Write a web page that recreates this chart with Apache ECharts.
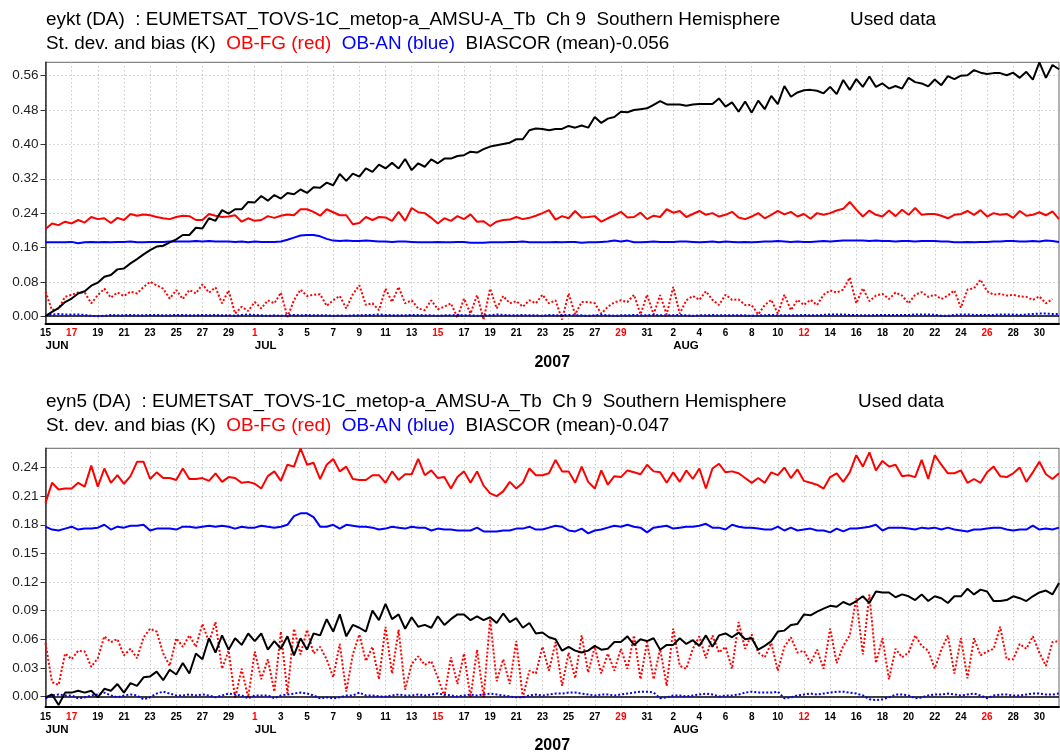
<!DOCTYPE html>
<html>
<head>
<meta charset="utf-8">
<script src="https://cdn.jsdelivr.net/npm/echarts@6/dist/echarts.min.js"></script>
<style>
html, body { margin: 0; padding: 0; background: #fff; }
#chart { width: 1060px; height: 755px; }
</style>
</head>
<body>
<div id="chart"></div>
<script>
// two analyses a day (00 and 12 UTC), starting 15 Jun 2007
const STEP = 0.5;
const START = Date.UTC(2007, 5, 15);
const monthNames = ['JAN', 'FEB', 'MAR', 'APR', 'MAY', 'JUN', 'JUL', 'AUG', 'SEP', 'OCT', 'NOV', 'DEC'];
const yTicksTop = [0, 0.08, 0.16, 0.24, 0.32, 0.40, 0.48, 0.56];
const yTicksBot = [0, 0.03, 0.06, 0.09, 0.12, 0.15, 0.18, 0.21, 0.24];

// ---- top panel (eykt) ----
const topUsed = [0.000,0.010,0.019,0.033,0.041,0.053,0.058,0.071,0.078,0.092,
  0.096,0.109,0.111,0.123,0.133,0.144,0.154,0.162,0.164,0.172,
  0.179,0.189,0.189,0.206,0.204,0.228,0.222,0.247,0.239,0.249,
  0.249,0.266,0.265,0.280,0.269,0.282,0.274,0.287,0.284,0.295,
  0.287,0.300,0.299,0.311,0.305,0.331,0.315,0.332,0.325,0.344,
  0.336,0.353,0.344,0.357,0.344,0.366,0.340,0.356,0.348,0.365,
  0.356,0.367,0.367,0.373,0.375,0.383,0.381,0.389,0.395,0.398,
  0.401,0.404,0.412,0.412,0.433,0.437,0.436,0.433,0.436,0.436,
  0.443,0.439,0.444,0.439,0.464,0.450,0.460,0.464,0.476,0.475,
  0.480,0.482,0.484,0.492,0.501,0.493,0.493,0.493,0.490,0.493,
  0.494,0.494,0.494,0.507,0.488,0.498,0.476,0.500,0.474,0.502,
  0.482,0.513,0.494,0.536,0.511,0.521,0.526,0.527,0.525,0.519,
  0.534,0.517,0.550,0.527,0.552,0.534,0.558,0.534,0.542,0.530,
  0.536,0.530,0.555,0.545,0.542,0.535,0.551,0.538,0.559,0.552,
  0.560,0.561,0.573,0.567,0.564,0.566,0.566,0.561,0.567,0.555,
  0.569,0.551,0.591,0.555,0.585,0.575];
const topFgStd = [0.203,0.216,0.212,0.220,0.216,0.224,0.218,0.231,0.226,0.228,
  0.217,0.229,0.224,0.238,0.234,0.237,0.235,0.231,0.228,0.226,
  0.231,0.234,0.233,0.224,0.224,0.238,0.234,0.231,0.232,0.235,
  0.220,0.228,0.222,0.224,0.233,0.229,0.234,0.237,0.235,0.249,
  0.249,0.243,0.234,0.249,0.242,0.235,0.235,0.214,0.217,
  0.231,0.224,0.231,0.230,0.222,0.243,0.222,0.252,0.242,0.240,
  0.229,0.216,0.228,0.222,0.233,0.226,0.237,0.220,0.221,0.210,
  0.220,0.224,0.225,0.231,0.226,0.229,0.234,0.240,0.247,0.225,
  0.233,0.228,0.245,0.230,0.231,0.233,0.220,0.228,0.235,0.243,
  0.230,0.231,0.241,0.226,0.234,0.231,0.249,0.241,0.245,0.231,
  0.238,0.245,0.236,0.240,0.232,0.236,0.243,0.230,0.226,0.232,
  0.240,0.228,0.236,0.245,0.237,0.243,0.232,0.238,0.227,0.240,
  0.236,0.240,0.246,0.250,0.266,0.248,0.232,0.246,0.236,0.232,
  0.246,0.233,0.248,0.236,0.252,0.236,0.238,0.238,0.234,0.228,
  0.236,0.238,0.245,0.236,0.247,0.232,0.240,0.236,0.238,0.229,
  0.245,0.234,0.236,0.242,0.235,0.244,0.226];
const topAnStd = [0.172,0.172,0.172,0.172,0.173,0.170,0.172,0.173,0.172,0.173,
  0.172,0.173,0.173,0.174,0.172,0.172,0.173,0.173,0.173,0.174,
  0.174,0.174,0.174,0.175,0.174,0.175,0.174,0.174,0.174,0.173,
  0.174,0.172,0.174,0.173,0.173,0.173,0.174,0.178,0.183,0.188,
  0.189,0.189,0.186,0.180,0.176,0.175,0.176,0.175,0.175,
  0.176,0.175,0.174,0.174,0.173,0.174,0.174,0.173,0.172,0.172,
  0.172,0.173,0.172,0.172,0.173,0.173,0.171,0.171,0.171,0.172,
  0.172,0.172,0.173,0.173,0.174,0.172,0.172,0.172,0.172,0.173,
  0.172,0.173,0.173,0.171,0.172,0.172,0.173,0.174,0.176,0.174,
  0.176,0.172,0.172,0.173,0.174,0.173,0.173,0.173,0.174,0.174,
  0.173,0.172,0.173,0.174,0.172,0.174,0.173,0.172,0.173,0.172,
  0.173,0.174,0.174,0.175,0.174,0.173,0.174,0.173,0.173,0.174,
  0.175,0.174,0.175,0.176,0.176,0.176,0.176,0.175,0.176,0.175,
  0.175,0.174,0.175,0.175,0.174,0.175,0.175,0.175,0.174,0.174,
  0.172,0.172,0.173,0.172,0.173,0.173,0.174,0.174,0.175,0.175,
  0.174,0.174,0.175,0.174,0.176,0.175,0.173];
const topFgBias = [0.057,0.014,0.018,0.045,0.050,0.055,0.055,0.030,0.049,0.064,
  0.043,0.055,0.047,0.057,0.053,0.068,0.080,0.072,0.064,0.041,
  0.061,0.040,0.061,0.053,0.074,0.055,0.067,0.030,0.060,0.006,
  0.022,0.012,0.033,0.018,0.037,0.030,0.055,-0.002,0.037,0.062,
  0.047,0.050,0.051,0.024,0.037,0.047,0.018,0.051,0.072,
  0.026,0.030,0.014,0.064,0.033,0.068,0.030,0.037,0.018,0.014,
  0.037,0.016,0.022,0.030,-0.003,0.041,0.006,0.049,-0.008,0.064,
  0.018,0.047,0.030,0.035,0.022,0.037,0.030,0.050,0.030,0.037,
  -0.008,0.053,0.004,0.033,0.033,0.030,0.006,0.022,0.032,0.037,
  0.033,0.050,0.004,0.050,0.004,0.049,0.004,0.068,0.006,0.037,
  0.047,0.038,0.058,0.038,0.026,0.050,0.038,0.039,0.026,0.026,
  0.004,0.026,0.038,0.006,0.050,0.014,0.038,0.026,0.038,0.026,
  0.050,0.060,0.055,0.062,0.090,0.030,0.065,0.035,0.048,0.052,
  0.040,0.055,0.048,0.030,0.050,0.056,0.045,0.050,0.040,0.048,
  0.060,0.020,0.062,0.065,0.085,0.058,0.050,0.052,0.048,0.050,
  0.046,0.045,0.038,0.046,0.030,0.040];
const topAnBias = [0.001,0.004,0.005,0.004,0.004,0.004,0.003,0.001,0.000,0.001,
  0.003,0.002,0.002,0.003,0.002,0.002,0.003,0.003,0.002,0.002,
  0.003,0.003,0.002,0.002,0.003,0.002,0.003,0.002,0.002,0.001,
  0.003,0.004,0.003,0.002,0.001,0.002,0.001,0.002,0.003,0.002,
  0.003,0.002,0.002,0.002,0.001,0.002,0.001,0.002,0.002,0.003,
  0.003,0.004,0.003,0.002,0.002,0.002,0.003,0.003,0.002,0.002,
  0.001,0.002,0.002,0.003,0.002,0.002,0.001,0.002,0.002,0.004,
  0.003,0.002,0.002,0.003,0.002,0.002,0.001,0.003,0.002,0.003,
  0.003,0.002,0.002,0.001,0.002,0.003,0.002,0.001,0.002,0.002,
  0.003,0.002,0.002,0.003,0.002,0.002,0.002,0.003,0.002,0.001,
  0.002,0.002,0.003,0.002,0.002,0.002,0.002,0.002,0.001,0.002,
  0.002,0.003,0.002,0.002,0.002,0.002,0.003,0.002,0.002,0.003,
  0.004,0.004,0.004,0.003,0.003,0.002,0.002,0.003,0.003,0.003,
  0.003,0.003,0.003,0.004,0.004,0.004,0.003,0.001,0.001,0.003,
  0.004,0.004,0.003,0.003,0.003,0.003,0.004,0.004,0.004,0.003,
  0.004,0.005,0.006,0.006,0.005,0.005];

// ---- bottom panel (eyn5) ----
const botUsed = [-0.001,0.002,-0.009,0.004,0.004,0.006,0.004,0.006,-0.001,0.008,
  0.006,0.013,0.004,0.014,0.011,0.020,0.021,0.026,0.017,0.028,
  0.023,0.035,0.024,0.045,0.039,0.061,0.046,0.064,0.049,0.061,
  0.054,0.066,0.058,0.066,0.049,0.058,0.050,0.063,0.043,0.061,
  0.049,0.066,0.064,0.081,0.068,0.086,0.063,0.075,0.072,
  0.068,0.090,0.080,0.097,0.081,0.086,0.071,0.083,0.073,0.075,
  0.072,0.084,0.075,0.081,0.086,0.086,0.080,0.084,0.080,0.083,
  0.077,0.087,0.078,0.082,0.072,0.077,0.066,0.067,0.062,0.060,
  0.048,0.052,0.048,0.046,0.048,0.053,0.049,0.050,0.057,0.057,
  0.063,0.054,0.060,0.058,0.061,0.049,0.054,0.054,0.061,0.055,
  0.059,0.053,0.064,
  0.052,0.064,0.066,0.062,0.067,0.060,0.061,0.049,0.053,
  0.058,0.068,0.069,0.075,0.076,0.086,0.085,0.089,0.092,0.095,
  0.094,0.099,0.096,0.100,0.105,0.098,0.110,0.109,0.109,0.104,
  0.107,0.105,0.101,0.107,0.100,0.105,0.103,0.098,0.105,0.105,
  0.113,0.107,0.112,0.110,0.100,0.100,0.101,0.105,0.103,
  0.100,0.105,0.109,0.111,0.107,0.119];
const botFgStd = [0.203,0.224,0.217,0.218,0.218,0.224,0.220,0.242,0.220,0.239,
  0.224,0.232,0.223,0.231,0.246,0.246,0.228,0.235,0.229,0.229,
  0.227,0.239,0.228,0.228,0.229,0.226,0.234,0.225,0.230,0.229,
  0.224,0.225,0.223,0.218,0.231,0.236,0.226,0.243,0.241,0.260,
  0.243,0.245,0.228,0.243,0.249,0.236,0.241,0.228,0.227,
  0.227,0.232,0.232,0.224,0.236,0.227,0.233,0.233,0.249,0.232,
  0.237,0.229,0.230,0.218,0.230,0.236,0.224,0.236,0.221,0.213,
  0.210,0.215,0.225,0.218,0.224,0.239,0.232,0.232,0.234,0.248,
  0.236,0.236,0.224,0.241,0.225,0.218,0.237,0.222,0.231,0.230,
  0.237,0.235,0.233,0.243,0.236,0.235,0.224,0.235,0.225,0.237,
  0.228,0.239,0.218,0.239,
  0.244,0.235,0.236,0.234,0.229,0.224,0.229,0.224,0.235,0.232,
  0.240,0.229,0.238,0.226,0.224,0.222,0.218,0.230,0.234,0.225,
  0.235,0.253,0.241,0.256,0.237,0.247,0.241,0.243,0.231,0.232,
  0.230,0.248,0.228,0.253,0.243,0.234,0.234,0.237,0.224,0.228,
  0.224,0.235,0.241,0.231,0.230,0.234,0.240,0.225,0.235,0.246,
  0.233,0.228,0.234];
const botAnStd = [0.178,0.175,0.174,0.176,0.178,0.175,0.176,0.176,0.177,0.180,
  0.175,0.178,0.177,0.179,0.179,0.180,0.174,0.176,0.176,0.176,
  0.175,0.178,0.178,0.177,0.178,0.179,0.178,0.179,0.178,0.176,
  0.178,0.177,0.177,0.179,0.178,0.177,0.178,0.180,0.189,0.192,
  0.192,0.188,0.178,0.178,0.180,0.176,0.180,0.179,0.178,
  0.178,0.177,0.175,0.176,0.178,0.177,0.176,0.178,0.177,0.177,
  0.174,0.176,0.175,0.175,0.174,0.174,0.174,0.177,0.173,0.173,
  0.173,0.174,0.174,0.176,0.176,0.178,0.175,0.175,0.177,0.179,
  0.178,0.174,0.173,0.176,0.171,0.174,0.175,0.177,0.179,0.178,
  0.180,0.178,0.177,0.172,0.177,0.178,0.179,0.176,0.177,0.178,
  0.178,0.179,0.181,
  0.177,0.177,0.175,0.180,0.178,0.177,0.177,0.176,0.175,
  0.175,0.178,0.174,0.177,0.174,0.175,0.176,0.174,0.174,0.172,
  0.176,0.173,0.176,0.176,0.177,0.178,0.180,0.174,0.177,0.177,
  0.177,0.176,0.175,0.177,0.176,0.177,0.175,0.177,0.175,0.174,
  0.173,0.175,0.175,0.176,0.177,0.177,0.175,0.174,0.175,0.175,
  0.179,0.175,0.176,0.175,0.177];
const botFgBias = [0.056,0.015,0.012,0.045,0.039,0.048,0.047,0.031,0.040,0.063,
  0.057,0.060,0.043,0.050,0.040,0.062,0.071,0.068,0.045,0.032,
  0.061,0.052,0.064,0.052,0.076,0.057,0.078,0.029,0.048,-0.002,
  0.029,-0.001,0.047,0.018,0.039,0.005,0.068,0.003,0.071,0.044,
  0.070,0.045,0.052,0.039,0.020,0.055,0.005,0.044,0.065,
  0.037,0.052,0.018,0.073,0.024,0.070,0.007,0.034,0.042,0.033,
  0.037,0.020,0.000,0.041,0.013,0.045,-0.001,0.049,-0.001,0.081,
  0.016,0.039,0.013,0.058,-0.001,0.027,0.024,0.052,0.027,0.057,
  0.011,0.046,0.019,0.064,0.025,0.052,0.024,0.045,0.027,0.050,
  0.029,0.064,0.018,0.057,0.018,0.050,0.011,0.071,0.032,0.029,
  0.050,0.063,0.040,
  0.064,0.046,0.052,0.029,0.078,0.050,0.065,0.046,0.041,0.056,
  0.027,0.052,0.062,0.046,0.048,0.035,0.049,0.029,0.071,0.035,
  0.053,0.064,0.103,0.044,0.107,0.035,0.061,0.018,0.050,0.041,
  0.046,0.064,0.053,0.048,0.029,0.049,0.064,0.024,0.061,0.019,
  0.061,0.043,0.047,0.050,0.073,0.039,0.039,0.055,0.050,0.063,
  0.046,0.032,0.057,0.058];
const botAnBias = [-0.002,0.001,0.002,0.001,0.001,-0.002,-0.001,0.001,0.002,0.004,
  0.001,-0.001,0.001,0.002,0.001,-0.003,-0.001,0.003,0.005,0.003,
  0.001,0.001,0.002,0.001,0.002,0.001,-0.001,0.001,0.003,0.002,
  0.001,-0.002,0.001,0.001,0.001,-0.002,0.001,0.002,0.003,0.004,
  0.003,0.001,-0.002,-0.001,-0.002,-0.001,0.001,0.001,0.004,0.001,
  0.001,0.000,0.000,0.001,0.002,0.001,
  0.001,0.002,0.001,0.002,0.003,0.002,0.001,0.000,0.001,0.002,
  0.001,0.002,0.003,0.002,0.001,0.000,-0.001,-0.001,0.001,0.002,
  0.001,0.002,0.003,0.003,0.004,0.004,0.003,0.002,0.001,0.002,
  0.002,0.001,0.002,0.003,0.004,0.005,0.005,0.004,-0.002,-0.001,
  0.001,0.001,0.000,0.001,0.002,0.003,0.002,0.000,0.001,0.001,
  0.002,0.004,0.005,0.004,0.004,0.004,0.005,-0.002,-0.001,0.001,
  0.002,0.003,0.002,0.003,0.004,0.005,0.005,0.004,0.003,0.001,
  -0.003,-0.004,-0.003,-0.001,0.002,0.002,0.001,-0.002,-0.001,0.001,
  0.002,0.002,0.003,0.002,0.001,0.002,0.003,0.001,-0.002,0.001,
  0.002,0.002,0.001,0.001,0.002,0.003,0.003,0.002,0.002,0.003];

const FONT = 'Liberation Sans';
const RED = '#ff0000';
const BLUE = '#0000ff';

function dateOf(v) {
  return new Date(START + v * 86400000);
}

function dayLabel(v) {
  if (Math.abs(v - Math.round(v)) > 1e-6) return '';
  const d = dateOf(v);
  return (d.getUTCDay() === 0 ? '{s|' : '{n|') + d.getUTCDate() + '}';
}

function monthLabel(v) {
  if (Math.abs(v - Math.round(v)) > 1e-6 || v > 76) return '';
  const d = dateOf(v);
  const prev = dateOf(v - 2);
  if (v === 0 || d.getUTCMonth() !== prev.getUTCMonth()) return monthNames[d.getUTCMonth()];
  return '';
}

const gridLine = { show: true, lineStyle: { color: '#b0b0b0', width: 1, type: [1, 3] } };

function xAxes(gi) {
  return [{
    type: 'value', gridIndex: gi, min: 0, max: 77.5, interval: 2,
    name: '2007', nameLocation: 'middle', nameGap: 31,
    nameTextStyle: { fontFamily: FONT, fontSize: 16, fontWeight: 'bold', color: '#000' },
    axisLine: { onZero: false, lineStyle: { color: '#000', width: 2 } },
    axisTick: { show: false },
    splitLine: gridLine,
    axisLabel: {
      margin: 5, showMaxLabel: false, formatter: dayLabel,
      rich: {
        n: { fontFamily: FONT, fontSize: 10, fontWeight: 'bold', color: '#000' },
        s: { fontFamily: FONT, fontSize: 10, fontWeight: 'bold', color: RED }
      }
    }
  }, {
    type: 'value', gridIndex: gi, min: 0, max: 77.5, interval: 2, position: 'bottom',
    axisLine: { show: false, onZero: false }, axisTick: { show: false }, splitLine: { show: false },
    axisLabel: {
      margin: 16.5, align: 'left', showMaxLabel: false, formatter: monthLabel,
      fontFamily: FONT, fontSize: 11.5, fontWeight: 'bold', color: '#000'
    }
  }];
}

function yAxis(gi, min, max, ticks) {
  return {
    type: 'value', gridIndex: gi, min: min, max: max,
    axisLine: { show: true, lineStyle: { color: '#333', width: 1.5 } },
    axisTick: { show: true, length: 5, customValues: ticks, lineStyle: { color: '#333' } },
    axisLabel: {
      customValues: ticks, margin: 7, formatter: v => v.toFixed(2),
      fontFamily: FONT, fontSize: 13.5, color: '#222'
    },
    splitLine: gridLine
  };
}

function line(arr, color, dotted, gi, z) {
  return {
    type: 'line', xAxisIndex: gi * 2, yAxisIndex: gi,
    data: arr.map((v, i) => [i * STEP, v]),
    symbol: 'none', silent: true, z: z,
    lineStyle: { color: color, width: 2, type: dotted ? [2, 2] : 'solid' }
  };
}

function usedLine(arr, gi) {
  const s = line(arr, '#000', false, gi, 6);
  s.markLine = {
    silent: true, symbol: 'none', label: { show: false },
    lineStyle: { color: '#000', width: 1.5, type: 'solid' },
    data: [{ yAxis: 0 }]
  };
  return s;
}

function titles(top, name, bias, usedLeft) {
  const ts = { fontFamily: FONT, fontSize: 18.9, fontWeight: 'normal', color: '#000', lineHeight: 20 };
  return [{
    left: 46, top: top, padding: 0,
    text: name + ' (DA)  : EUMETSAT_TOVS-1C_metop-a_AMSU-A_Tb  Ch 9  Southern Hemisphere',
    textStyle: ts
  }, {
    left: usedLeft, top: top, padding: 0, text: 'Used data', textStyle: ts
  }, {
    left: 46, top: top + 24, padding: 0,
    text: '{k|St. dev. and bias (K)}  {r|OB-FG (red)}  {b|OB-AN (blue)}  {k|BIASCOR (mean)' + bias + '}',
    textStyle: Object.assign({}, ts, {
      rich: {
        k: Object.assign({}, ts),
        r: Object.assign({}, ts, { color: RED }),
        b: Object.assign({}, ts, { color: BLUE })
      }
    })
  }];
}

const chart = echarts.init(document.getElementById('chart'), null, { renderer: 'canvas' });
chart.setOption({
  animation: false,
  backgroundColor: '#fff',
  title: titles(10, 'eykt', '-0.056', 850).concat(titles(392, 'eyn5', '-0.047', 858)),
  grid: [
    { left: 45.5, right: 1, top: 62.3, bottom: 755 - 323.4, show: true, borderColor: '#666', borderWidth: 1 },
    { left: 45.5, right: 1, top: 448.3, bottom: 755 - 708.3, show: true, borderColor: '#666', borderWidth: 1 }
  ],
  xAxis: xAxes(0).concat(xAxes(1)),
  yAxis: [
    yAxis(0, -0.0168, 0.5912, yTicksTop),
    yAxis(1, -0.0111, 0.2602, yTicksBot)
  ],
  series: [
    line(topFgStd, RED, false, 0, 2),
    line(topAnStd, BLUE, false, 0, 3),
    line(topFgBias, RED, true, 0, 4),
    line(topAnBias, BLUE, true, 0, 5),
    usedLine(topUsed, 0),
    line(botFgStd, RED, false, 1, 2),
    line(botAnStd, BLUE, false, 1, 3),
    line(botFgBias, RED, true, 1, 4),
    line(botAnBias, BLUE, true, 1, 5),
    usedLine(botUsed, 1)
  ]
});
</script>
</body>
</html>
